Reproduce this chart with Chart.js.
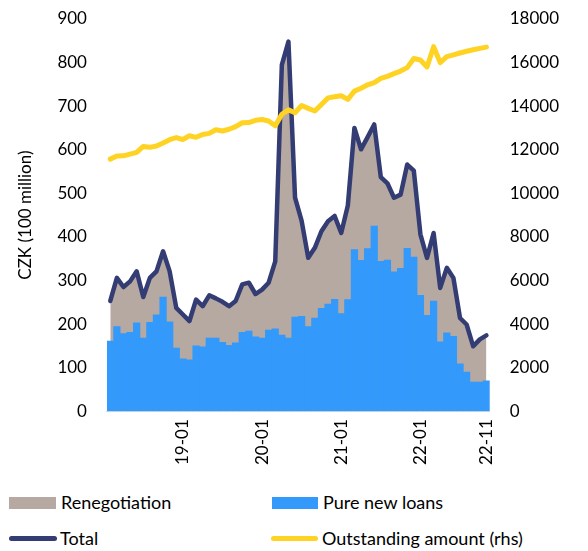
<!DOCTYPE html>
<html>
<head>
<meta charset="utf-8">
<script src="https://cdn.jsdelivr.net/npm/chart.js@4.4.1/dist/chart.umd.min.js"></script>
<style>
  body { margin: 0; background: #fff; font-family: Lato, sans-serif; }
  #wrap { position: relative; width: 588px; height: 551px; }
  #box { position: absolute; left: 0; top: 0; width: 588px; height: 475px; }
  .lg { position: absolute; font-size: 18px; line-height: 18px; color: #000; white-space: nowrap; }
  .sw { position: absolute; }
</style>
</head>
<body>
<div id="wrap">
  <div id="box"><canvas id="myChart"></canvas></div>
  <div class="sw" style="left:9px;top:497px;width:47px;height:12px;background:#b6a9a2"></div>
  <div class="lg" style="left:61px;top:493px">Renegotiation</div>
  <div class="sw" style="left:272px;top:497px;width:46px;height:12px;background:#3399fb"></div>
  <div class="lg" style="left:323px;top:493px">Pure new loans</div>
  <div class="sw" style="left:9px;top:536px;width:48px;height:5px;border-radius:3px;background:#333c73"></div>
  <div class="lg" style="left:60px;top:529px">Total</div>
  <div class="sw" style="left:271px;top:536px;width:47px;height:5px;border-radius:3px;background:#ffd324"></div>
  <div class="lg" style="left:322px;top:529px">Outstanding amount (rhs)</div>
</div>
<script>
const months = ["18-02","18-03","18-04","18-05","18-06","18-07","18-08","18-09","18-10","18-11","18-12",
  "19-01","19-02","19-03","19-04","19-05","19-06","19-07","19-08","19-09","19-10","19-11","19-12",
  "20-01","20-02","20-03","20-04","20-05","20-06","20-07","20-08","20-09","20-10","20-11","20-12",
  "21-01","21-02","21-03","21-04","21-05","21-06","21-07","21-08","21-09","21-10","21-11","21-12",
  "22-01","22-02","22-03","22-04","22-05","22-06","22-07","22-08","22-09","22-10","22-11"];
const shownTicks = ["19-01", "20-01", "21-01", "22-01", "22-11"];

const pureNew = [161,194,178,181,203,168,204,221,262,205, 145,120,118,150,148,168,168,158,151,157,
  181,184,171,168,186,189,175,168,216,218, 194,214,236,246,257,224,256,371,346,373,
  425,344,347,320,328,374,354,266,220,253, 159,180,172,109,90,67,67,70];
const renegotiation = [92,112,107,117,118,94,102,100,105,116, 92,102,89,106,93,98,91,93,90,96,
  110,111,98,111,109,155,620,680,274,219, 158,161,177,190,191,185,216,279,255,256,
  233,193,176,170,169,192,198,140,132,156, 124,149,134,105,109,82,98,104];
const total = [253,306,285,298,321,262,306,321,367,321, 237,222,207,256,241,266,259,251,241,253,
  291,295,269,279,295,344,795,848,490,437, 352,375,413,436,448,409,472,650,601,629,
  658,537,523,490,497,566,552,406,352,409, 283,329,306,214,199,149,165,174];
const outstanding = [11570,11710,11720,11800,11880,12150,12110,12170,12310,12460,
  12560,12470,12640,12570,12700,12750,12920,12860,12940,13060,
  13240,13250,13350,13390,13320,13100,13630,13830,13700,14030,
  13900,13780,14080,14380,14430,14480,14310,14690,14820,14980,
  15080,15270,15370,15490,15610,15770,16190,16120,15800,16730,
  16000,16270,16350,16440,16520,16590,16650,16710];

Chart.defaults.font.family = 'Lato';
Chart.defaults.color = '#000';

// hidden tick marks are used only as spacing between labels and plot
const hiddenGrid = { display: false, drawTicks: true, tickLength: 12 };

const ctx = document.getElementById('myChart');
let myChart = new Chart(ctx, {
    type: 'bar',
    data: {
        labels: months,
        datasets: [
            {
                type: 'line',
                label: "Renegotiation",
                data: renegotiation,
                stack: 'loans',
                yAxisID: 'y',
                order: 3,
                fill: 'origin',
                backgroundColor: "#b6a9a2",
                borderWidth: 0,
                pointRadius: 0,
                tension: 0,
            },
            {
                type: 'bar',
                label: "Pure new loans",
                data: pureNew,
                stack: 'loans',
                yAxisID: 'y',
                order: 2,
                backgroundColor: "#3399fb",
                borderWidth: 0,
                barPercentage: 1,
                categoryPercentage: 1,
            },
            {
                type: 'line',
                label: "Total",
                data: total,
                stack: 'total',
                yAxisID: 'y',
                order: 1,
                fill: false,
                borderColor: "#333c73",
                borderWidth: 4.5,
                borderJoinStyle: 'round',
                borderCapStyle: 'round',
                pointRadius: 0,
                tension: 0,
            },
            {
                type: 'line',
                label: "Outstanding amount (rhs)",
                data: outstanding,
                yAxisID: 'y1',
                order: 0,
                fill: false,
                borderColor: "#ffd324",
                borderWidth: 5,
                borderJoinStyle: 'round',
                borderCapStyle: 'round',
                pointRadius: 0,
                tension: 0,
            }
        ]
    },
    options: {
        responsive: true,
        maintainAspectRatio: false,
        animation: false,
        layout: { padding: { top: 19, right: 21, bottom: 7, left: 0 } },
        plugins: {
            legend: { display: false },
            tooltip: { enabled: false }
        },
        scales: {
            x: {
                offset: true,
                grid: { display: false, drawTicks: true, tickLength: 5 },
                border: { display: true, color: '#d9d9d9', width: 1 },
                ticks: {
                    autoSkip: false,
                    minRotation: 90,
                    maxRotation: 90,
                    padding: 3,
                    font: { family: "'Liberation Sans Narrow', Lato", size: 17 },
                    callback: function(value) {
                        const lab = this.getLabelForValue(value);
                        return shownTicks.includes(lab) ? lab : '';
                    }
                }
            },
            y: {
                position: 'left',
                stacked: true,
                min: 0,
                max: 900,
                grid: hiddenGrid,
                border: { display: false },
                ticks: { stepSize: 100, padding: 8, font: { size: 17 } },
                title: {
                    display: true,
                    text: 'CZK (100 million)',
                    font: { size: 17 },
                    padding: { top: 15, bottom: 14 }
                }
            },
            y1: {
                position: 'right',
                min: 0,
                max: 18000,
                grid: hiddenGrid,
                border: { display: false },
                ticks: {
                    stepSize: 2000,
                    padding: 8,
                    font: { size: 17 },
                    callback: (v) => String(v)
                }
            }
        }
    }
});
</script>
</body>
</html>
